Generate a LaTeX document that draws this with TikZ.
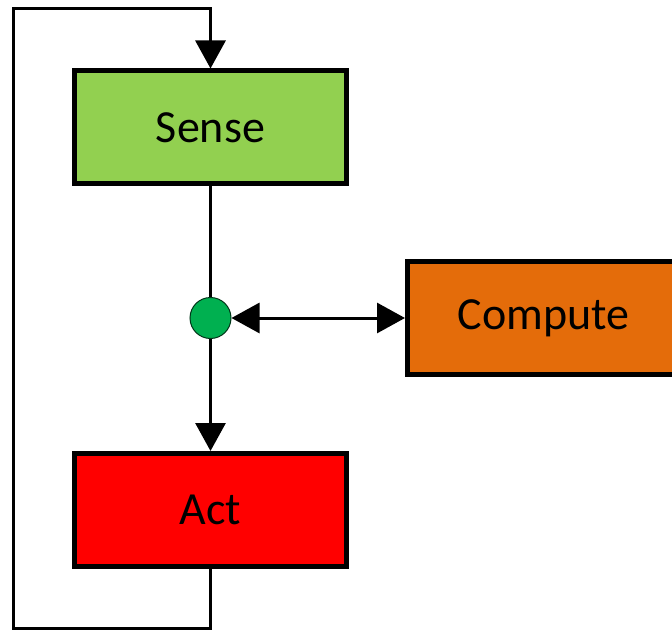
\documentclass[tikz,border=0pt]{standalone}
\usepackage{fontspec}
\setmainfont{Carlito}
\usetikzlibrary{arrows.meta}

\definecolor{senseGreen}{HTML}{92D050}
\definecolor{computeOrange}{HTML}{E46C0A}
\definecolor{actRed}{HTML}{FF0000}
\definecolor{hubGreen}{HTML}{00B050}

\begin{document}
\begin{tikzpicture}[x=1pt, y=-1pt,
		block/.style={draw, line width=5pt, inner sep=0pt, minimum width=272pt, minimum height=113pt, font=\fontsize{46}{55}\selectfont},
		flow/.style={line width=3pt},
		tip/.style={-{Triangle[length=28pt, width=30pt]}}]
	\useasboundingbox (0, 0) rectangle (672, 631);
	
	\node[block, fill=senseGreen] (sense) at (210.5, 127.5) {Sense};
	\node[block, fill=actRed] (act) at (210.5, 510) {Act};
	\node[block, fill=computeOrange, anchor=west] (compute) at (405, 318) {Compute};
	\node[circle, draw=black!70!hubGreen, fill=hubGreen, line width=1pt, minimum size=41pt, inner sep=0pt] (hub) at (210.5, 318) {};
	
	\coordinate (lowleft) at (13, 628.5);
	\coordinate (upleft) at (13, 8.5);
	
	\draw[flow] (sense.south) -- (hub.north);
	\draw[flow, tip] (hub.south) -- (act.north);
	\draw[flow, {Triangle[length=28pt, width=30pt]}-{Triangle[length=28pt, width=30pt]}] (hub.east) -- (compute.west);
	
	% feedback loop from Act back round to Sense
	\draw[flow, tip] (act.south) |- (lowleft) -- (upleft) -| (sense.north);
\end{tikzpicture}
\end{document}
